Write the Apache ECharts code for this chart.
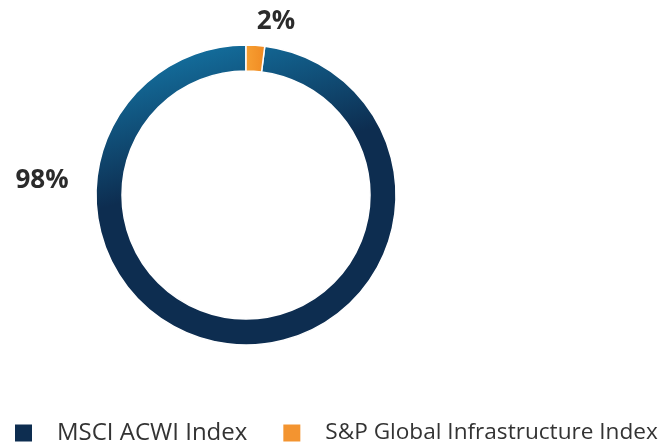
<!DOCTYPE html>
<html>
<head>
<meta charset="utf-8">
<script src="https://cdn.jsdelivr.net/npm/echarts@6/dist/echarts.min.js"></script>
<style>html,body{margin:0;padding:0;background:#fff;}#c{width:662px;height:442px;}</style>
</head>
<body>
<div id="c"></div>
<script>
const categories = ['MSCI ACWI Index', 'S&P Global Infrastructure Index'];
const values = [98, 2];
const labels = ['98%', '2%'];

const labelPos = [[42, 181], [276, 22]];
const legendFontSizes = [24, 22.6];
const chart = echarts.init(document.getElementById('c'));
const blueGrad = {
  type: 'linear', x: 175, y: 40, x2: 215, y2: 175, global: true,
  colorStops: [{offset: 0, color: '#1475a5'}, {offset: 1, color: '#0d2d50'}]
};
const orangeGrad = {
  type: 'linear', x: 0, y: 0, x2: 1, y2: 0,
  colorStops: [{offset: 0, color: '#f7a033'}, {offset: 1, color: '#f08a22'}]
};
const fills = [blueGrad, orangeGrad];
const iconColors = ['#0d2d50', '#f39430'];
chart.setOption({
  animation: false,
  legend: {
    left: 15, top: 421, width: 700, itemWidth: 17, itemHeight: 17, itemGap: 36, icon: 'rect',
    padding: 0,
    itemStyle: {borderWidth: 0},
    data: categories.map((n, i) => ({name: n, itemStyle: {color: iconColors[i], borderWidth: 0}, textStyle: {fontSize: legendFontSizes[i]}})),
    textStyle: {fontFamily: 'Open Sans', fontSize: 23, color: '#333', padding: [0, 0, 0, 20]}
  },
  series: [{
    type: 'pie',
    center: [246, 195],
    radius: [124, 150],
    startAngle: 82.8,
    clockwise: true,
    itemStyle: {borderColor: '#fff', borderWidth: 1.5},
    label: {
      show: true, position: 'outside',
      formatter: p => labels[p.dataIndex],
      fontFamily: 'Open Sans', fontWeight: 'bold', fontSize: 26, color: '#2b2b2b'
    },
    labelLine: {show: false},
    labelLayout: p => ({x: labelPos[p.dataIndex][0], y: labelPos[p.dataIndex][1], align: 'center', verticalAlign: 'middle'}),
    emphasis: {disabled: true},
    data: categories.map((n, i) => ({name: n, value: values[i], itemStyle: {color: fills[i]}}))
  }]
});
</script>
</body>
</html>
